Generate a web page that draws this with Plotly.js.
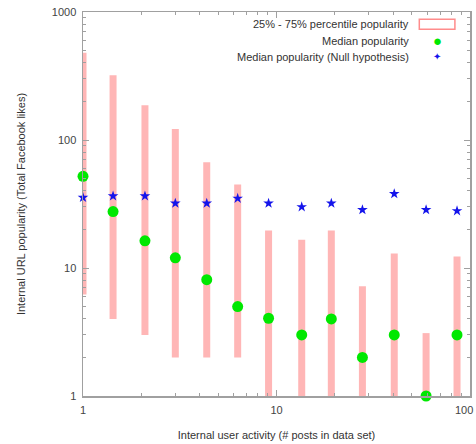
<!DOCTYPE html>
<html>
<head>
<meta charset="utf-8">
<script src="https://cdn.plot.ly/plotly-3.0.1.min.js"></script>
<style>html,body{margin:0;padding:0;background:#fff;}#chart{width:476px;height:444px;}</style>
</head>
<body>
<div id="chart"></div>
<script>
// Data
var activity = [1, 1.43, 2.09, 3.0, 4.36, 6.3, 9.1, 13.5, 19.2, 27.8, 40.6, 59.3, 85.7];
var p25 = [6.2, 4, 3, 2, 2, 2, 1, 1, 1, 1, 1, 1, 1];
var p75 = [480, 320, 187, 122, 67, 45, 19.6, 16.6, 19.6, 7.2, 13, 3.1, 12.3];
var median = [52, 27.6, 16.3, 12, 8.1, 5.0, 4.05, 3.0, 4.0, 2.0, 3.0, 1.0, 3.0];
var medianNull = [35.5, 36.5, 36.5, 32, 32, 35, 32, 30, 32, 28.5, 38, 28.5, 27.9];
var xTickVals = [1, 10, 100];
var xTickText = ['1', '10', '100'];
var yTickVals = [1, 10, 100, 1000];
var yTickText = ['1', '10', '100', '1000'];
var legendLabels = ['25% - 75% percentile popularity', 'Median popularity', 'Median popularity (Null hypothesis)'];

var pink = 'rgb(255,182,182)';
var green = 'rgb(0,232,0)';
var blue = 'rgb(20,20,235)';

function minorVals(decades) {
  var v = [];
  for (var k = 0; k < decades; k++) {
    for (var m = 2; m <= 9; m++) v.push(m * Math.pow(10, k));
  }
  return v;
}

var spans = p75.map(function (h, i) { return h - p25[i]; });

var traces = [
  {
    type: 'scatter', mode: 'markers', x: activity, y: p25,
    marker: {size: 1, opacity: 0},
    error_y: {type: 'data', symmetric: false, array: spans, arrayminus: p25.map(function(){return 0;}),
              thickness: 7, width: 0, color: pink},
    cliponaxis: false, showlegend: false, hoverinfo: 'skip'
  },
  {
    type: 'scatter', mode: 'markers', x: activity, y: median,
    marker: {size: 11, color: green, symbol: 'circle'},
    cliponaxis: false, showlegend: false
  },
  {
    type: 'scatter', mode: 'markers', x: activity, y: medianNull,
    marker: {size: 8, color: blue, symbol: 'star'},
    cliponaxis: false, showlegend: false
  }
];

var font = {family: 'Liberation Sans, Arial, sans-serif', size: 11, color: '#333'};
var tickFont = {family: font.family, size: 11, color: '#444'};
var axisCommon = {
  type: 'log', showgrid: false, zeroline: false, showline: true, linecolor: '#a0a0a0', linewidth: 1.5,
  mirror: 'ticks', ticks: 'inside', ticklen: 6, tickcolor: '#a0a0a0', tickwidth: 1,
  tickmode: 'array', tickfont: tickFont, ticklabelstandoff: 3
};

// last x tick label sits at the right edge: drawn as a right-aligned label so it stays inside the page
var lastX = xTickText.length - 1;
var xAxisText = xTickText.map(function (t, i) { return i === lastX ? '' : t; });

var xaxis = Object.assign({}, axisCommon, {
  range: [0, 2], tickvals: xTickVals, ticktext: xAxisText,
  minor: {tickmode: 'array', tickvals: minorVals(2), ticks: 'inside', ticklen: 3, tickcolor: '#a0a0a0', showgrid: false},
  title: {text: 'Internal user activity (# posts in data set)', font: font, standoff: 16}
});
var yaxis = Object.assign({}, axisCommon, {
  range: [0, 3], tickvals: yTickVals, ticktext: yTickText,
  minor: {tickmode: 'array', tickvals: minorVals(3), ticks: 'inside', ticklen: 3, tickcolor: '#a0a0a0', showgrid: false},
  title: {text: 'Internal URL popularity (Total Facebook likes)', font: font, standoff: 24}
});

var legX = 0.847, legY = [0.968, 0.925, 0.883];
var annotations = legendLabels.map(function (t, i) {
  return {xref: 'paper', yref: 'paper', x: legX, y: legY[i], xanchor: 'right', yanchor: 'middle',
          text: t, showarrow: false, font: {family: font.family, size: 11, color: '#333'}};
});
annotations.push({xref: 'paper', yref: 'paper', x: 0.915, y: legY[1], xanchor: 'center', yanchor: 'middle',
                  text: '\u25CF', showarrow: false, font: {size: 15, color: green}});
annotations.push({xref: 'paper', yref: 'paper', x: 0.915, y: legY[2], xanchor: 'center', yanchor: 'middle',
                  text: '\u2726', showarrow: false, font: {size: 10, color: blue}});
annotations.push({xref: 'paper', yref: 'paper', x: 1, y: 0, xanchor: 'right', yanchor: 'top',
                  xshift: 5, yshift: -6, text: xTickText[lastX], showarrow: false, font: tickFont});

var layout = {
  width: 476, height: 444,
  margin: {l: 83, r: 6, t: 12, b: 48},
  paper_bgcolor: '#fff', plot_bgcolor: '#fff',
  showlegend: false,
  xaxis: xaxis, yaxis: yaxis,
  font: font,
  annotations: annotations,
  shapes: [{type: 'rect', xref: 'paper', yref: 'paper', x0: 0.869, x1: 0.961, y0: 0.955, y1: 0.981,
            line: {color: 'rgb(255,140,140)', width: 1.5}, fillcolor: 'rgba(0,0,0,0)'}]
};

Plotly.newPlot('chart', traces, layout, {displayModeBar: false, staticPlot: true});
</script>
</body>
</html>
